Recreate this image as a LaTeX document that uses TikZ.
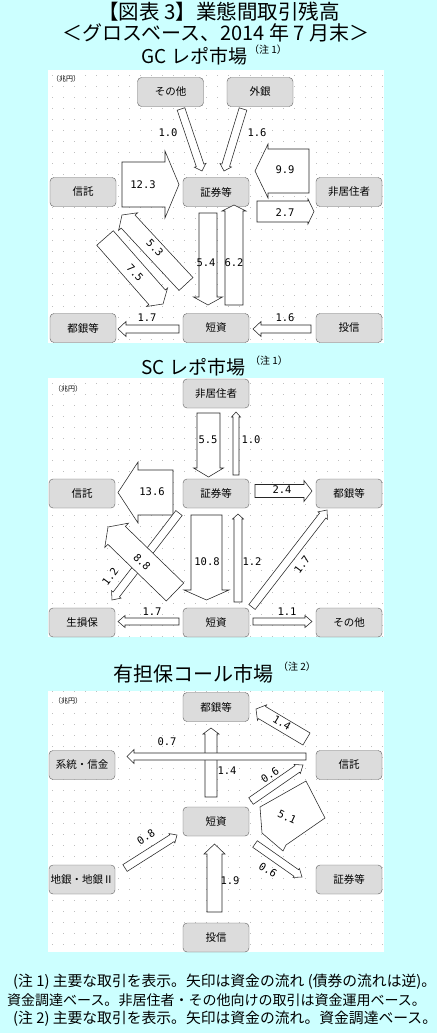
\documentclass[tikz,border=0pt]{standalone}
\usepackage{fontspec}
\setmainfont{Noto Sans CJK JP}
\newfontfamily\numfont{DejaVu Sans Mono}
\usetikzlibrary{calc, positioning}
\definecolor{bgcyan}{RGB}{204, 255, 255}
\definecolor{boxgray}{RGB}{220, 220, 220}
\definecolor{edgegray}{RGB}{96, 96, 96}
\definecolor{dotgray}{RGB}{190, 190, 190}
\tikzset{
  blockarr/.style={draw=black!85, fill=white, line width=0.55pt, line join=miter},
  dotrow/.style={dotgray, line width=0.6pt, dash pattern=on 0.6pt off 10.4pt}
}
% block arrow: [opts]{tail}{tip}{shaft half width}{head half width}{head length}
\newcommand{\blockarrow}[6][]{%
  \coordinate (ba-base) at ($(#3)!#6pt!(#2)$);
  \draw[blockarr, #1] ($(#2)!#4pt!90:(#3)$) -- ($(ba-base)!#4pt!90:(#3)$)
    -- ($(ba-base)!#5pt!90:(#3)$) -- (#3) -- ($(ba-base)!#5pt!-90:(#3)$)
    -- ($(ba-base)!#4pt!-90:(#3)$) -- ($(#2)!#4pt!-90:(#3)$) -- cycle;
}

\begin{document}
\begin{tikzpicture}[
    x=1pt, y=-1pt,
    box/.style={rectangle, draw=edgegray, fill=boxgray, rounded corners=4pt, minimum width=66pt, minimum height=29pt, inner sep=0pt, font=\fontsize{10.5}{12}\selectfont},
    lbl/.style={inner sep=0pt, font=\numfont\fontsize{10.5}{12}\selectfont},
    head/.style={inner sep=0pt, font=\fontsize{19}{22}\selectfont},
    sup/.style={inner sep=0pt, font=\fontsize{10}{11}\selectfont},
    unit/.style={inner sep=0pt, font=\fontsize{7}{8}\selectfont},
    note/.style={inner sep=0pt, anchor=west}
]
    \useasboundingbox (0,0) rectangle (437,1033);
    \fill[bgcyan] (0,0) rectangle (437,1033);
    \foreach \ya/\yb in {70/343, 378/637, 691/952}
        \fill[white] (48,\ya) rectangle (384,\yb);
    \begin{scope}
        \clip (48,70) rectangle (384,343) (48,378) rectangle (384,637) (48,691) rectangle (384,952);
        \foreach \yy in {75,86,...,952}
            \draw[dotrow] (52,\yy) -- (384,\yy);
    \end{scope}

    \node[head, font=\fontsize{20.5}{22}\selectfont] (title1) at (219,12) {【図表 3】業態間取引残高};
    \node[head, font=\fontsize{20}{22}\selectfont] (title2) at (216,33) {＜グロスベース、2014 年 7 月末＞};

    % GC repo
    \node[head] (gc-title) at (194.5,56) {GC レポ市場};
    \node[sup] (gc-note) at (268,50) {（注 1）};
    \node[unit] (gc-unit) at (66,79) {（兆円）};
    \node[box] (gc-sonota) at (170.5,92) {その他};
    \node[box] (gc-gaigin) at (260,92) {外銀};
    \node[box] (gc-shintaku) at (83,192) {信託};
    \node[box] (gc-shoken) at (216,192) {証券等};
    \node[box] (gc-hikyo) at (349,192) {非居住者};
    \node[box] (gc-togin) at (83,328) {都銀等};
    \node[box] (gc-tanshi) at (216,328) {短資};
    \node[box] (gc-toushin) at (349,328) {投信};

    \coordinate (g1s) at (181,109);   \coordinate (g1t) at (202,171);
    \coordinate (g2s) at (243,109);   \coordinate (g2t) at (224,171);
    \coordinate (g3s) at (122,184.5); \coordinate (g3t) at (179,184.5);
    \coordinate (g4s) at (309,171);   \coordinate (g4t) at (255,171);
    \coordinate (g5s) at (257,211.5); \coordinate (g5t) at (314,211.5);
    \coordinate (g6s) at (208,213);   \coordinate (g6t) at (208,305);
    \coordinate (g7s) at (234,305);   \coordinate (g7t) at (234,205);
    \coordinate (g8s) at (186,284);   \coordinate (g8t) at (122,215);
    \coordinate (g9s) at (105,238);   \coordinate (g9t) at (163,304);
    \coordinate (g10s) at (179,329);  \coordinate (g10t) at (118,329);
    \coordinate (g11s) at (311,329);  \coordinate (g11t) at (253,329);
    \blockarrow{g1s}{g1t}{4}{6}{6}
    \blockarrow{g2s}{g2t}{4}{6}{6}
    \blockarrow{g3s}{g3t}{22.5}{33.5}{14}
    \blockarrow{g4s}{g4t}{22}{27}{13}
    \blockarrow{g5s}{g5t}{10.5}{12.5}{6}
    \blockarrow{g6s}{g6t}{9}{14.5}{8}
    \blockarrow{g7s}{g7t}{9}{12}{6}
    \blockarrow{g8s}{g8t}{9.5}{13}{9}
    \blockarrow{g9s}{g9t}{11}{14}{9}
    \blockarrow{g10s}{g10t}{4}{7.5}{8}
    \blockarrow{g11s}{g11t}{4}{7.5}{8}
    \node[lbl] (gl1) at (168,133) {1.0};
    \node[lbl] (gl2) at (257,133) {1.6};
    \node[lbl] (gl3) at (143,185) {12.3};
    \node[lbl] (gl4) at (285,170) {9.9};
    \node[lbl] (gl5) at (285,213) {2.7};
    \node[lbl] (gl6) at (206,263) {5.4};
    \node[lbl] (gl7) at (234,263) {6.2};
    \node[lbl, rotate=-47] (gl8) at (155,248) {5.3};
    \node[lbl, rotate=-47] (gl9) at (135,273) {7.5};
    \node[lbl] (gl10) at (147,318) {1.7};
    \node[lbl] (gl11) at (285,318) {1.6};

    % SC repo
    \node[head] (sc-title) at (193.5,367) {SC レポ市場};
    \node[sup] (sc-note) at (269,361) {（注 1）};
    \node[unit] (sc-unit) at (68,389) {（兆円）};
    \node[box] (sc-hikyo) at (216,393.5) {非居住者};
    \node[box] (sc-shintaku) at (82,493.5) {信託};
    \node[box] (sc-shoken) at (216,493.5) {証券等};
    \node[box] (sc-togin) at (349,493.5) {都銀等};
    \node[box] (sc-seisonpo) at (82,622.5) {生損保};
    \node[box] (sc-tanshi) at (216,622.5) {短資};
    \node[box] (sc-sonota) at (349,622.5) {その他};

    \coordinate (s1s) at (208.5,413);   \coordinate (s1t) at (208.5,477);
    \coordinate (s2s) at (236,475);     \coordinate (s2t) at (236,412);
    \coordinate (s3s) at (173,492.5);   \coordinate (s3t) at (118,492.5);
    \coordinate (s4s) at (255,491);     \coordinate (s4t) at (312,491);
    \coordinate (s5s) at (206.5,515);   \coordinate (s5t) at (206.5,600);
    \coordinate (s6s) at (238,602);     \coordinate (s6t) at (238,514);
    \coordinate (s7s) at (179,621.5);   \coordinate (s7t) at (118,621.5);
    \coordinate (s8s) at (253,621.5);   \coordinate (s8t) at (312,621.5);
    \coordinate (s9s) at (252,607);     \coordinate (s9t) at (327,510);
    \coordinate (s10s) at (179,513);    \coordinate (s10t) at (112,600);
    \coordinate (s11s) at (175,592);    \coordinate (s11t) at (108,527);
    \blockarrow{s1s}{s1t}{11.5}{15}{9}
    \blockarrow{s2s}{s2t}{3}{4.5}{5}
    \blockarrow{s3s}{s3t}{22.5}{30.5}{20}
    \blockarrow{s4s}{s4t}{6.5}{10.5}{8}
    \blockarrow{s5s}{s5t}{15.5}{22.5}{10}
    \blockarrow{s6s}{s6t}{4}{5.5}{5}
    \blockarrow{s7s}{s7t}{3.5}{6}{7}
    \blockarrow{s8s}{s8t}{3.5}{6}{7}
    \blockarrow{s9s}{s9t}{4}{6}{7}
    \blockarrow{s10s}{s10t}{4}{6}{7}
    \blockarrow{s11s}{s11t}{12.5}{17}{12}
    \node[lbl] (sl1) at (208,440) {5.5};
    \node[lbl] (sl2) at (251,440) {1.0};
    \node[lbl] (sl3) at (152,492) {13.6};
    \node[lbl] (sl4) at (282,490) {2.4};
    \node[lbl] (sl5) at (207,562) {10.8};
    \node[lbl] (sl6) at (252,562) {1.2};
    \node[lbl] (sl7) at (152,612) {1.7};
    \node[lbl] (sl8) at (287,612) {1.1};
    \node[lbl, rotate=53] (sl9) at (302,565) {1.7};
    \node[lbl, rotate=53] (sl10) at (110,577) {1.2};
    \node[lbl, rotate=-45] (sl11) at (142,562) {8.8};

    % collateralized call
    \node[head, font=\fontsize{20}{22}\selectfont] (ca-title) at (193.5,673.5) {有担保コール市場};
    \node[sup] (ca-note) at (297,667) {（注 2）};
    \node[unit] (ca-unit) at (68,701) {（兆円）};
    \node[box] (ca-togin) at (216,707) {都銀等};
    \node[box] (ca-keito) at (82,765) {系統・信金};
    \node[box] (ca-shintaku) at (349,765) {信託};
    \node[box] (ca-tanshi) at (216,821.5) {短資};
    \node[box] (ca-chigin) at (82,879.5) {地銀・地銀Ⅱ};
    \node[box] (ca-shoken) at (349,879.5) {証券等};
    \node[box] (ca-toushin) at (216,937.5) {投信};

    \coordinate (c1s) at (211,797);     \coordinate (c1t) at (211,728);
    \coordinate (c2s) at (306,756.5);   \coordinate (c2t) at (127,756.5);
    \coordinate (c3s) at (306.5,739);   \coordinate (c3t) at (256,709);
    \coordinate (c4s) at (251,801);     \coordinate (c4t) at (303,765);
    \coordinate (c5s) at (255,844);     \coordinate (c5t) at (302,877);
    \coordinate (c6s) at (125,868);     \coordinate (c6t) at (177,835);
    \coordinate (c7s) at (214.5,912);   \coordinate (c7t) at (214.5,844);
    \blockarrow{c1s}{c1t}{6}{8}{6}
    \blockarrow{c2s}{c2t}{3.5}{7}{7}
    \blockarrow{c3s}{c3t}{7}{9}{7}
    \blockarrow{c4s}{c4t}{4}{5.5}{7}
    \draw[blockarr] (260,807) -- (306,781) -- (325,818) -- (286,845) -- (283,851) -- (262,833) -- cycle;
    \blockarrow{c5s}{c5t}{4}{5.5}{7}
    \blockarrow{c6s}{c6t}{4}{5.5}{6}
    \blockarrow{c7s}{c7t}{7.5}{10.5}{10}
    \node[lbl] (cl1) at (227,771) {1.4};
    \node[lbl] (cl2) at (167,742) {0.7};
    \node[lbl, rotate=-31] (cl3) at (282,723) {1.4};
    \node[lbl, rotate=33] (cl4) at (270,775) {0.6};
    \node[lbl, rotate=-25] (cl5) at (287,817) {5.1};
    \node[lbl, rotate=-33] (cl6) at (268,870) {0.6};
    \node[lbl, rotate=33] (cl7) at (146,837) {0.8};
    \node[lbl] (cl8) at (230,881) {1.9};

    \node[note, font=\fontsize{14.8}{16}\selectfont] (fn1) at (13,982) {(注 1) 主要な取引を表示。矢印は資金の流れ (債券の流れは逆)。};
    \node[note, font=\fontsize{14}{16}\selectfont] (fn2) at (7,1000) {資金調達ベース。非居住者・その他向けの取引は資金運用ベース。};
    \node[note, font=\fontsize{14.8}{16}\selectfont] (fn3) at (13,1019) {(注 2) 主要な取引を表示。矢印は資金の流れ。資金調達ベース。};
\end{tikzpicture}
\end{document}
